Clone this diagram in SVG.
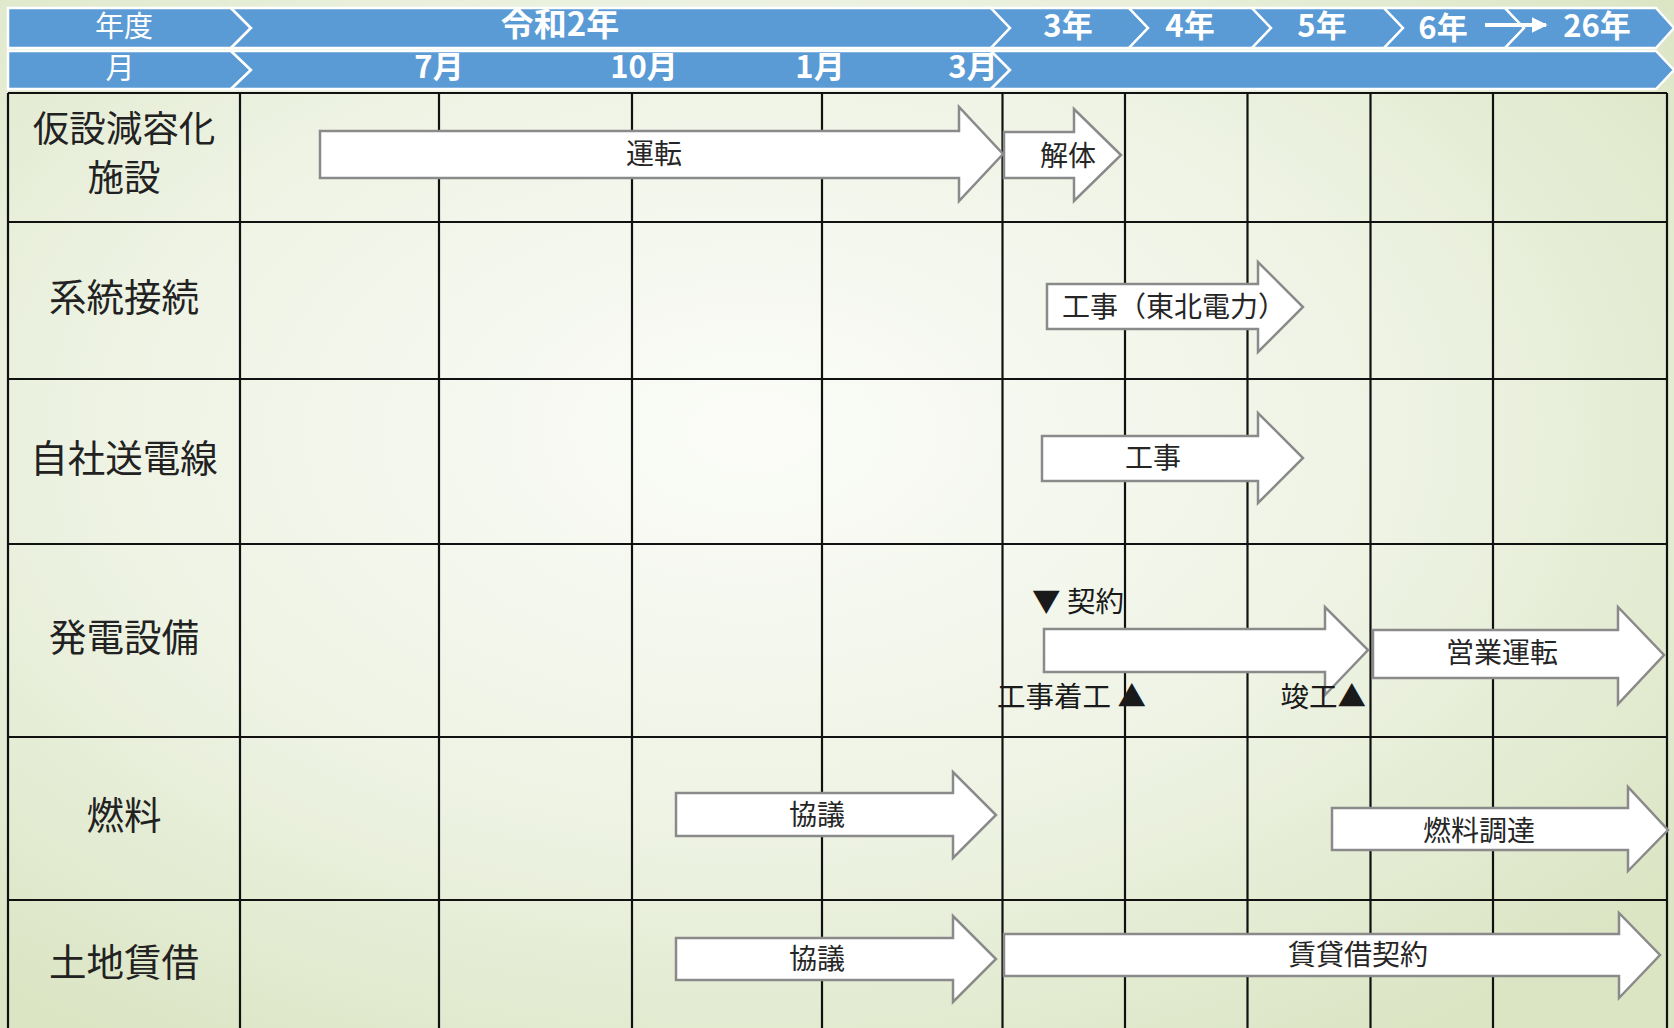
<svg xmlns="http://www.w3.org/2000/svg" width="1674" height="1028" viewBox="0 0 1674 1028">
<defs>
<radialGradient id="bg" cx="0.45" cy="0.42" r="0.7">
<stop offset="0" stop-color="#fbfcf8"/>
<stop offset="0.55" stop-color="#eef3e4"/>
<stop offset="1" stop-color="#dbe5c4"/>
</radialGradient>
<marker id="hd" viewBox="0 0 10 10" refX="9" refY="5" markerWidth="4" markerHeight="4" orient="auto" markerUnits="strokeWidth">
<path d="M0,0 L10,5 L0,10 Z" fill="#ffffff"/>
</marker>
</defs>
<style>
.seg{fill:#5b9bd5;stroke:#ffffff;stroke-width:2.5;stroke-linejoin:miter}
.ht{font-family:"Noto Sans CJK JP","Noto Sans",sans-serif;fill:#ffffff;text-anchor:middle;dominant-baseline:central}
.hb{font-size:31px;font-weight:bold}
.hbl{font-size:33px;font-weight:bold}
.hn{font-size:29px;font-weight:normal}
.gl{stroke:#111111;stroke-width:2.2;fill:none}
.row{font-family:"Noto Sans CJK JP","Noto Sans",sans-serif;font-size:37.5px;fill:#222222;text-anchor:middle;dominant-baseline:central}
.r2l{font-size:36.5px}
.arr{fill:#ffffff;stroke:#8a8a8a;stroke-width:2.5;stroke-linejoin:miter}
.al{font-family:"Noto Sans CJK JP","Noto Sans",sans-serif;font-size:28px;fill:#262626;text-anchor:middle;dominant-baseline:central}
.mk{font-family:"Noto Sans CJK JP","Noto Sans",sans-serif;font-size:28.5px;fill:#1a1a1a;dominant-baseline:central}
</style>
<rect x="0" y="0" width="1674" height="1028" fill="url(#bg)"/>

<g id="grid">
<line class="gl" x1="8" y1="93" x2="1667" y2="93"/>
<line class="gl" x1="8" y1="222" x2="1667" y2="222"/>
<line class="gl" x1="8" y1="379" x2="1667" y2="379"/>
<line class="gl" x1="8" y1="544" x2="1667" y2="544"/>
<line class="gl" x1="8" y1="737" x2="1667" y2="737"/>
<line class="gl" x1="8" y1="900" x2="1667" y2="900"/>
<line class="gl" x1="8" y1="93" x2="8" y2="1028"/>
<line class="gl" x1="240" y1="93" x2="240" y2="1028"/>
<line class="gl" x1="439" y1="93" x2="439" y2="1028"/>
<line class="gl" x1="632" y1="93" x2="632" y2="1028"/>
<line class="gl" x1="822" y1="93" x2="822" y2="1028"/>
<line class="gl" x1="1002.5" y1="93" x2="1002.5" y2="1028"/>
<line class="gl" x1="1125" y1="93" x2="1125" y2="1028"/>
<line class="gl" x1="1247.5" y1="93" x2="1247.5" y2="1028"/>
<line class="gl" x1="1370.5" y1="93" x2="1370.5" y2="1028"/>
<line class="gl" x1="1493" y1="93" x2="1493" y2="1028"/>
<line class="gl" x1="1667" y1="93" x2="1667" y2="1028"/>
</g>

<g id="header-year">
<g id="h-nendo"><path class="seg" d="M8,8 H231 L251,28 L231,48 H8 Z"/><text class="ht hn" x="124" y="24">年度</text></g>
<g id="h-r2"><path class="seg" d="M231,8 H991 L1010,28 L991,48 H231 L251,28 Z"/><text class="ht hbl" x="560" y="22">令和2年</text></g>
<g id="h-r3"><path class="seg" d="M991,8 H1129 L1148,28 L1129,48 H991 L1010,28 Z"/><text class="ht hb" x="1068" y="23">3年</text></g>
<g id="h-r4"><path class="seg" d="M1129,8 H1252 L1271,28 L1252,48 H1129 L1148,28 Z"/><text class="ht hb" x="1190" y="23">4年</text></g>
<g id="h-r5"><path class="seg" d="M1252,8 H1384 L1403,28 L1384,48 H1252 L1271,28 Z"/><text class="ht hb" x="1322" y="23">5年</text></g>
<g id="h-r6"><path class="seg" d="M1384,8 H1505 L1524,28 L1505,48 H1384 L1403,28 Z"/><text class="ht hb" x="1443" y="25">6年</text></g>
<g id="h-r26"><path class="seg" d="M1505,8 H1656 L1674,28 L1656,48 H1505 L1524,28 Z"/><text class="ht hb" x="1597" y="23">26年</text></g>
</g>

<g id="header-month">
<g id="h-tsuki"><path class="seg" d="M8,51 H231 L251,70 L231,89 H8 Z"/><text class="ht hn" x="120" y="66">月</text></g>
<g id="h-months"><path class="seg" d="M231,51 H991 L1010,70 L991,89 H231 L251,70 Z"/>
<text class="ht hb" x="439" y="64">7月</text>
<text class="ht hb" x="644" y="64">10月</text>
<text class="ht hb" x="820" y="64">1月</text>
<text class="ht hb" x="973" y="64">3月</text></g>
<g id="h-later"><path class="seg" d="M991,51 H1656 L1674,70 L1656,89 H991 L1010,70 Z"/></g>
</g>

<g id="rows">
<g id="r1"><text class="row r2l" x="124" y="126">仮設減容化</text><text class="row r2l" x="124" y="175">施設</text></g>
<g id="r2"><text class="row" x="124" y="294">系統接続</text></g>
<g id="r3"><text class="row" x="124" y="455">自社送電線</text></g>
<g id="r4"><text class="row" x="124" y="634">発電設備</text></g>
<g id="r5"><text class="row" x="124" y="812">燃料</text></g>
<g id="r6"><text class="row" x="124" y="959">土地賃借</text></g>
</g>

<g id="bars">
<g id="a-unten"><path class="arr" d="M320,131 H959 V107 L1003,154 L959,201 V178 H320 Z"/><text class="al" x="654" y="152">運転</text></g>
<g id="a-kaitai"><path class="arr" d="M1004,132 H1074 V109 L1121,155 L1074,201 V178 H1004 Z"/><text class="al" x="1068" y="154">解体</text></g>
<g id="a-keito"><path class="arr" d="M1047,284 H1258 V262 L1303,307 L1258,352 V329 H1047 Z"/><text class="al" x="1174" y="305">工事（東北電力）</text></g>
<g id="a-jisha"><path class="arr" d="M1042,436 H1258 V413 L1303,458 L1258,503 V481 H1042 Z"/><text class="al" x="1153" y="456">工事</text></g>
<g id="a-hatsuden"><path class="arr" d="M1044,629 H1325 V607 L1368,650 L1325,695 V672 H1044 Z"/></g>
<g id="a-eigyo"><path class="arr" d="M1373,630 H1618 V607 L1664,655 L1618,704 V678 H1373 Z"/><text class="al" x="1502" y="651">営業運転</text></g>
<g id="a-kyogi1"><path class="arr" d="M676,793 H953 V772 L996,815 L953,858 V836 H676 Z"/><text class="al" x="817" y="813">協議</text></g>
<g id="a-nenryo"><path class="arr" d="M1332,808 H1628 V787 L1668,830 L1628,871 V850 H1332 Z"/><text class="al" x="1479" y="829">燃料調達</text></g>
<g id="a-kyogi2"><path class="arr" d="M676,938 H953 V916 L996,959 L953,1002 V980 H676 Z"/><text class="al" x="817" y="957">協議</text></g>
<g id="a-chintai"><path class="arr" d="M1004,934 H1619 V913 L1660,955 L1619,998 V976 H1004 Z"/><text class="al" x="1358" y="953">賃貸借契約</text></g>
</g>

<g id="milestones">
<text class="mk" x="1032" y="599">▼ 契約</text>
<text class="mk" x="1146" y="694" text-anchor="end">工事着工 ▲</text>
<text class="mk" x="1366" y="694" text-anchor="end">竣工▲</text>
</g>

<g id="connectors">
<line x1="1485" y1="25" x2="1546" y2="25" stroke="#ffffff" stroke-width="4" marker-end="url(#hd)"/>
</g>
</svg>
